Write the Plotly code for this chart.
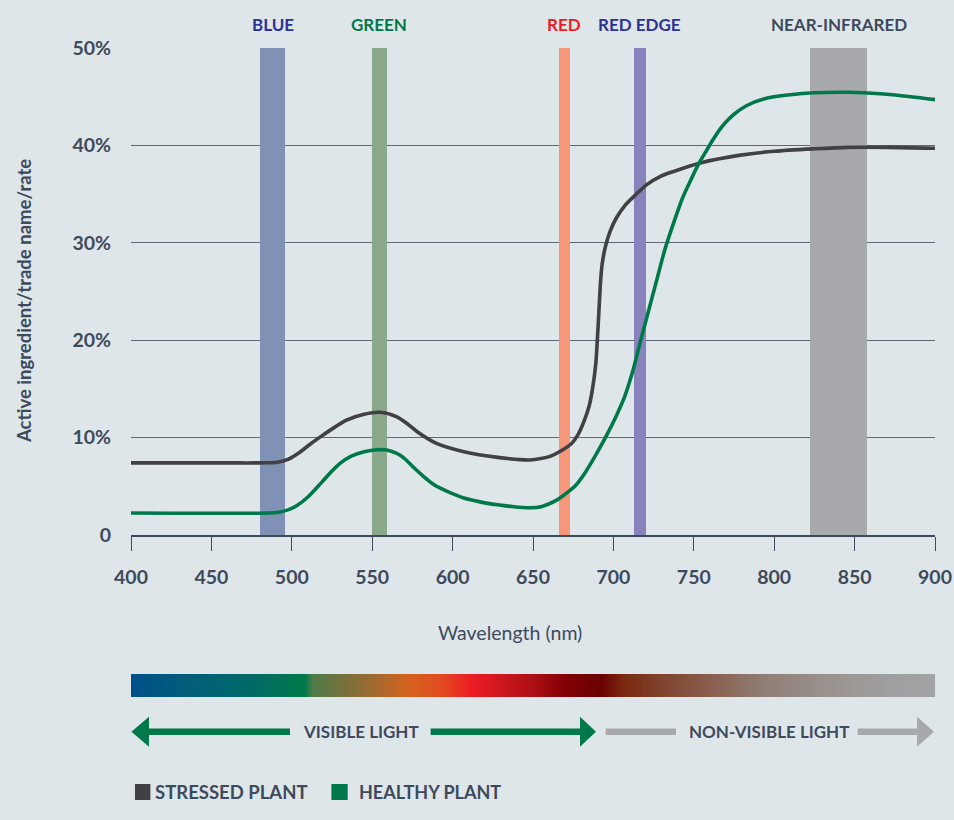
import plotly.graph_objects as go

# ---------------- data ----------------
stressed_nm = [400, 460, 486, 492, 498, 505, 512, 518, 527, 534, 545, 555, 565, 572, 578, 590, 607, 628, 648, 655,
               661, 667, 674, 678, 682, 685, 687, 689, 690, 691, 692, 693, 695, 698, 702, 707, 713, 721, 729, 737,
               754, 779, 800, 825, 846, 870, 900]
stressed_val = [7.4, 7.4, 7.42, 7.5, 7.8, 8.5, 9.4, 10.1, 11.1, 11.8, 12.4, 12.6, 12.15, 11.4, 10.6, 9.4, 8.55, 7.97,
                7.7, 7.85, 8.1, 8.6, 9.4, 10.3, 11.8, 13.3, 15.0, 17.5, 20.0, 23.0, 26.0, 27.8, 29.6, 31.2, 32.6,
                33.8, 34.8, 36.0, 36.8, 37.3, 38.2, 39.0, 39.4, 39.65, 39.8, 39.8, 39.7]

healthy_nm = [400, 486, 492, 498, 503, 510, 518, 524, 530, 537, 545, 553, 559, 565, 570, 576, 582, 589, 597, 607, 617,
              628, 638, 648, 655, 665, 670, 676, 682, 689, 696, 702, 707, 712, 717, 722, 727, 732, 738, 743, 748,
              753, 758, 762, 766, 770, 775, 783, 794, 810, 825, 846, 866, 885, 900]
healthy_val = [2.26, 2.26, 2.33, 2.6, 3.0, 3.9, 5.3, 6.4, 7.36, 8.1, 8.55, 8.75, 8.73, 8.4, 7.87, 6.9, 6.0, 5.1, 4.45,
               3.8, 3.4, 3.1, 2.9, 2.8, 2.9, 3.6, 4.2, 5.0, 6.3, 8.2, 10.3, 12.3, 14.2, 16.8, 20.0, 23.1, 26.2,
               29.3, 32.3, 34.6, 36.4, 38.1, 39.5, 40.6, 41.6, 42.4, 43.2, 44.1, 44.8, 45.2, 45.4, 45.45, 45.3,
               45.0, 44.7]

band_names = ["BLUE", "GREEN", "RED", "RED EDGE", "NEAR-INFRARED"]
band_start = [480, 550, 666, 713, 822]
band_end = [496, 559, 673, 720, 858]
band_colors = ["#7f91b5", "#8aa98b", "#f7977a", "#8882bd", "#a7a9ac"]
band_label_colors = ["#2e3192", "#00794a", "#ed1c24", "#2e3192", "#3d4a5c"]
band_top = 50

y_ticks = [0, 10, 20, 30, 40, 50]
y_ticktext = ["0", "10%", "20%", "30%", "40%", "50%"]
x_ticks = [400, 450, 500, 550, 600, 650, 700, 750, 800, 850, 900]

spectrum_stops = [0.0, 0.075, 0.15, 0.217, 0.226, 0.283, 0.345, 0.387, 0.424, 0.5, 0.538, 0.584, 0.613,
                  0.663, 0.725, 0.787, 0.87, 0.954, 1.0]
spectrum_colors = ["#00518a", "#005e78", "#006a68", "#007a48", "#4f7a48", "#8a6e35", "#d4621f", "#e24a20",
                   "#ed1c24", "#ac1016", "#850005", "#6a0000", "#7a2a10", "#7f4530", "#8a6050", "#8f7e75",
                   "#9a9490", "#a0a0a2", "#a2a3a6"]

# ---------------- styling ----------------
BG = "#dfe6e9"
TXT = "#3d4a5c"
GREEN = "#00794a"
DARK = "#414042"
GRAY = "#a7a9ac"
FONT = "Lato"

W, H = 954, 820
ML, MR, MT, MB = 131, 19, 48, 10
PW, PH = W - ML - MR, H - MT - MB


def px(x):
    return (x - ML) / PW


def py(y):
    return (H - MB - y) / PH


fig = go.Figure()

# bands as bars
for s, e, c in zip(band_start, band_end, band_colors):
    fig.add_trace(go.Bar(x=[(s + e) / 2], y=[band_top], width=[e - s], marker=dict(color=c, line=dict(width=0)),
                         showlegend=False, hoverinfo="skip"))

fig.add_trace(go.Scatter(x=stressed_nm, y=stressed_val, mode="lines", name="STRESSED PLANT",
                         line=dict(color=DARK, width=3.6, shape="spline", smoothing=0.8), showlegend=False))
fig.add_trace(go.Scatter(x=healthy_nm, y=healthy_val, mode="lines", name="HEALTHY PLANT",
                         line=dict(color=GREEN, width=3.6, shape="spline", smoothing=0.8), showlegend=False))

# spectrum gradient bar
fig.add_trace(go.Scatter(x=[400, 900, 900, 400, 400], y=[0, 0, 1, 1, 0], mode="lines", fill="toself",
                         line=dict(width=0), xaxis="x2", yaxis="y2", showlegend=False, hoverinfo="skip",
                         fillgradient=dict(type="horizontal",
                                           colorscale=[[s, c] for s, c in zip(spectrum_stops, spectrum_colors)])))

main_bottom = py(535)
fig.update_layout(
    width=W, height=H, autosize=False,
    margin=dict(l=ML, r=MR, t=MT, b=MB, autoexpand=False),
    paper_bgcolor=BG, plot_bgcolor=BG,
    barmode="overlay", bargap=0,
    font=dict(family=FONT, color=TXT),
    xaxis=dict(range=[400, 900], domain=[0, 1], tickvals=x_ticks, ticks="outside", ticklen=14, tickwidth=1,
               tickcolor=TXT, showline=True, linecolor=TXT, linewidth=1.5, showgrid=False, zeroline=False,
               tickfont=dict(family=FONT, size=19.5, color=TXT, weight="bold"), ticklabelstandoff=10,
               anchor="y", fixedrange=True, automargin=False),
    yaxis=dict(range=[0, 50], domain=[main_bottom, 1], tickvals=y_ticks, ticktext=y_ticktext, showgrid=True,
               gridcolor="#5d6876", gridwidth=1, zeroline=False, showline=False, ticks="",
               tickfont=dict(family=FONT, size=19.5, color=TXT, weight="bold"), ticklabelstandoff=19,
               fixedrange=True, automargin=False),
    xaxis2=dict(range=[400, 900], domain=[0, 1], anchor="y2", visible=False, fixedrange=True, automargin=False),
    yaxis2=dict(range=[0, 1], domain=[py(697), py(674)], anchor="x2", visible=False, fixedrange=True,
                automargin=False),
)

annotations = []
shapes = []

# band labels
for n, s, e, c in zip(band_names, band_start, band_end, band_label_colors):
    annotations.append(dict(x=(s + e) / 2, xref="x", y=py(24), yref="paper", text=f"<b>{n}</b>",
                            showarrow=False, font=dict(family=FONT, size=17, color=c),
                            xanchor="center", yanchor="middle"))

# axis titles
annotations.append(dict(x=px(510), y=py(632), xref="paper", yref="paper", text="Wavelength (nm)",
                        showarrow=False, font=dict(family=FONT, size=19.5, color=TXT),
                        xanchor="center", yanchor="middle"))
annotations.append(dict(x=px(24), y=py(301), xref="paper", yref="paper",
                        text="<b>Active ingredient/trade name/rate</b>", textangle=-90,
                        showarrow=False, font=dict(family=FONT, size=18.5, color=TXT),
                        xanchor="center", yanchor="middle"))

# arrows row
ay = 731.7
half = 3.2
hh = 15


def rect(x0, x1, color):
    shapes.append(dict(type="rect", xref="paper", yref="paper", x0=px(x0), x1=px(x1), y0=py(ay + half),
                       y1=py(ay - half), fillcolor=color, line=dict(width=0)))


def head(xb, xt, color):
    path = f"M {px(xt)} {py(ay)} L {px(xb)} {py(ay - hh)} L {px(xb)} {py(ay + hh)} Z"
    shapes.append(dict(type="path", xref="paper", yref="paper", path=path, fillcolor=color, line=dict(width=0)))


head(149, 131.4, GREEN)
rect(148, 290, GREEN)
rect(430.6, 581, GREEN)
head(580, 596, GREEN)
rect(605.7, 676, GRAY)
rect(857.7, 918, GRAY)
head(917, 934, GRAY)

annotations.append(dict(x=px(361), y=py(ay), xref="paper", yref="paper", text="<b>VISIBLE LIGHT</b>",
                        showarrow=False, font=dict(family=FONT, size=17, color=TXT),
                        xanchor="center", yanchor="middle"))
annotations.append(dict(x=px(769), y=py(ay), xref="paper", yref="paper", text="<b>NON-VISIBLE LIGHT</b>",
                        showarrow=False, font=dict(family=FONT, size=17, color=TXT),
                        xanchor="center", yanchor="middle"))

# legend
ly = 792
for x0, x1, color, label, tx, fs in [(135, 150.4, DARK, "STRESSED PLANT", 153, 18.5),
                                      (331.4, 347.7, GREEN, "HEALTHY PLANT", 357, 18)]:
    shapes.append(dict(type="rect", xref="paper", yref="paper", x0=px(x0), x1=px(x1), y0=py(ly + 8),
                       y1=py(ly - 8), fillcolor=color, line=dict(width=0)))
    annotations.append(dict(x=px(tx), y=py(ly), xref="paper", yref="paper", text=f"<b>{label}</b>",
                            showarrow=False, font=dict(family=FONT, size=fs, color=TXT),
                            xanchor="left", yanchor="middle"))

fig.update_layout(annotations=annotations, shapes=shapes)

fig.write_html("out.html", config={"displayModeBar": False},
               post_script="document.body.style.margin='0';document.body.style.background='" + BG + "';")
